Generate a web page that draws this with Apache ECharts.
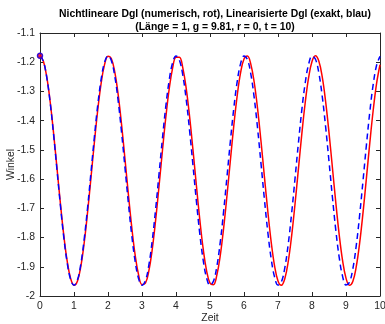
<!DOCTYPE html>
<html><head><meta charset="utf-8">
<script src="https://cdn.jsdelivr.net/npm/echarts@6/dist/echarts.min.js"></script>
<style>html,body{margin:0;padding:0;background:#fff}#c{width:385px;height:324px}</style>
</head><body><div id="c"></div>
<script>
var titleLine1 = "Nichtlineare Dgl (numerisch, rot), Linearisierte Dgl (exakt, blau)";
var titleLine2 = "(Länge = 1, g = 9.81, r = 0, t = 10)";
var xName = "Zeit";
var yName = "Winkel";
var time = [0.0,0.1,0.2,0.3,0.4,0.5,0.6,0.7,0.8,0.9,1.0,1.1,1.2,1.3,1.4,1.5,1.6,1.7,1.8,1.9,2.0,2.1,2.2,2.3,2.4,2.5,2.6,2.7,2.8,2.9,3.0,3.1,3.2,3.3,3.4,3.5,3.6,3.7,3.8,3.9,4.0,4.1,4.2,4.3,4.4,4.5,4.6,4.7,4.8,4.9,5.0,5.1,5.2,5.3,5.4,5.5,5.6,5.7,5.8,5.9,6.0,6.1,6.2,6.3,6.4,6.5,6.6,6.7,6.8,6.9,7.0,7.1,7.2,7.3,7.4,7.5,7.6,7.7,7.8,7.9,8.0,8.1,8.2,8.3,8.4,8.5,8.6,8.7,8.8,8.9,9.0,9.1,9.2,9.3,9.4,9.5,9.6,9.7,9.8,9.9,10.0];
var nonlinear = [-1.1781,-1.1968,-1.2513,-1.3362,-1.4435,-1.5630,-1.6832,-1.7927,-1.8810,-1.9397,-1.9632,-1.9492,-1.8991,-1.8177,-1.7127,-1.5942,-1.4734,-1.3619,-1.2704,-1.2075,-1.1793,-1.1885,-1.2342,-1.3120,-1.4145,-1.5319,-1.6530,-1.7663,-1.8609,-1.9279,-1.9607,-1.9564,-1.9152,-1.8412,-1.7413,-1.6252,-1.5039,-1.3890,-1.2914,-1.2205,-1.1830,-1.1826,-1.2192,-1.2894,-1.3864,-1.5010,-1.6223,-1.7387,-1.8390,-1.9138,-1.9558,-1.9611,-1.9291,-1.8629,-1.7688,-1.6559,-1.5348,-1.4171,-1.3142,-1.2357,-1.1892,-1.1791,-1.2064,-1.2685,-1.3595,-1.4706,-1.5913,-1.7100,-1.8154,-1.8975,-1.9484,-1.9633,-1.9407,-1.8828,-1.7951,-1.6860,-1.5659,-1.4463,-1.3386,-1.2530,-1.1977,-1.1781,-1.1960,-1.2496,-1.3339,-1.4408,-1.5601,-1.6804,-1.7903,-1.8792,-1.9387,-1.9631,-1.9500,-1.9007,-1.8200,-1.7154,-1.5971,-1.4762,-1.3644,-1.2723,-1.2086];
var linear = [-1.1781,-1.1972,-1.2527,-1.3391,-1.4480,-1.5689,-1.6900,-1.7995,-1.8867,-1.9432,-1.9635,-1.9455,-1.8911,-1.8055,-1.6971,-1.5764,-1.4551,-1.3451,-1.2571,-1.1996,-1.1782,-1.1950,-1.2484,-1.3331,-1.4410,-1.5615,-1.6829,-1.7934,-1.8823,-1.9408,-1.9633,-1.9477,-1.8954,-1.8115,-1.7041,-1.5838,-1.4623,-1.3513,-1.2616,-1.2021,-1.1784,-1.1929,-1.2442,-1.3272,-1.4340,-1.5540,-1.6757,-1.7872,-1.8777,-1.9382,-1.9631,-1.9497,-1.8995,-1.8173,-1.7111,-1.5913,-1.4695,-1.3575,-1.2663,-1.2047,-1.1787,-1.1909,-1.2401,-1.3214,-1.4270,-1.5466,-1.6685,-1.7810,-1.8730,-1.9355,-1.9626,-1.9516,-1.9035,-1.8231,-1.7181,-1.5987,-1.4767,-1.3638,-1.2711,-1.2075,-1.1792,-1.1891,-1.2361,-1.3157,-1.4201,-1.5392,-1.6613,-1.7746,-1.8681,-1.9327,-1.9621,-1.9534,-1.9075,-1.8288,-1.7250,-1.6062,-1.4840,-1.3702,-1.2759,-1.2104,-1.1799];
var xMin = 0, xMax = 10, xStep = 1;
var yMin = -2, yMax = -1.1, yStep = 0.1;

function pairs(xs, ys){ return xs.map(function(x,i){ return [x, ys[i]]; }); }
var axisColor = '#262626';
var font = '"Liberation Sans", Arial, sans-serif';
var chart = echarts.init(document.getElementById('c'), null, {renderer:'canvas'});
var yFmt = function(v){ return String(parseFloat(v.toFixed(1))); };
var baseX = {type:'value', min:xMin, max:xMax, interval:xStep,
  axisLine:{show:true, onZero:false, lineStyle:{color:axisColor, width:1}},
  axisTick:{show:true, inside:true, length:4, lineStyle:{color:axisColor}},
  splitLine:{show:false}};
var baseY = {type:'value', min:yMin, max:yMax, interval:yStep,
  axisLine:{show:true, onZero:false, lineStyle:{color:axisColor, width:1}},
  axisTick:{show:true, inside:true, length:4, lineStyle:{color:axisColor}},
  splitLine:{show:false}};
chart.setOption({
  animation:false,
  backgroundColor:'#fff',
  title:{text:titleLine1 + '\n' + titleLine2, left:210, textAlign:'center', top:3,
    textStyle:{fontFamily:font, fontSize:10.4, fontWeight:'bold', color:'#000', lineHeight:13}},
  grid:{left:40, right:5, top:33, bottom:28, containLabel:false, outerBoundsMode:'none'},
  xAxis:[
    Object.assign({}, baseX, {position:'bottom', name:xName, nameLocation:'middle', nameGap:17,
      nameMoveOverlap:false,
      nameTextStyle:{fontFamily:font, fontSize:10.4, color:axisColor},
      axisLabel:{show:true, margin:5, fontFamily:font, fontSize:10.4, color:axisColor}}),
    Object.assign({}, baseX, {position:'top', axisLabel:{show:false}})
  ],
  yAxis:[
    Object.assign({}, baseY, {position:'left', name:yName, nameLocation:'middle', nameGap:24,
      nameMoveOverlap:false,
      nameTextStyle:{fontFamily:font, fontSize:10.4, color:axisColor},
      axisLabel:{show:true, margin:5, fontFamily:font, fontSize:10.4, color:axisColor, formatter:yFmt}}),
    Object.assign({}, baseY, {position:'right', axisLabel:{show:false}})
  ],
  series:[
    {type:'line', data:pairs(time, nonlinear), smooth:0.4, symbol:'none',
      lineStyle:{color:'#ff0000', width:1.5}, z:2},
    {type:'line', data:pairs(time, linear), smooth:0.4, symbol:'none',
      lineStyle:{color:'#0000ff', width:1.5, type:[6,4]}, z:3},
    {type:'scatter', data:[[time[0], nonlinear[0]]], symbol:'circle', symbolSize:6,
      itemStyle:{color:'#ff0000', borderColor:'#ff0000', borderWidth:0}, z:4},
    {type:'scatter', data:[[time[0], linear[0]]], symbol:'circle', symbolSize:5,
      itemStyle:{color:'none', borderColor:'#0000ff', borderWidth:1.5}, z:5}
  ]
});
</script></body></html>
